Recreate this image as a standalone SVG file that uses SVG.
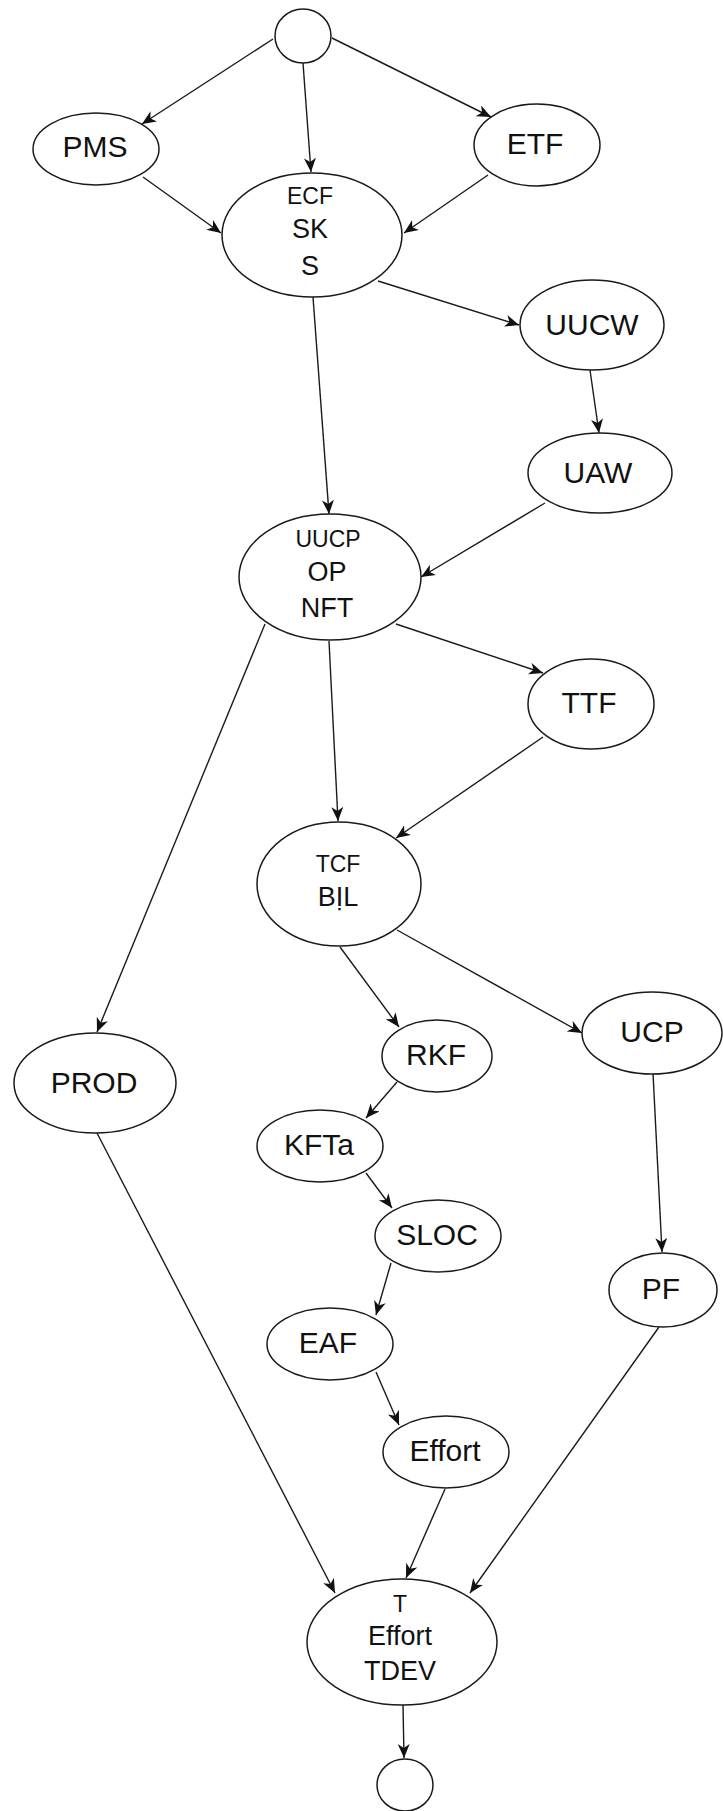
<svg xmlns="http://www.w3.org/2000/svg" width="723" height="1811" viewBox="0 0 723 1811">
  <defs>
    <marker id="arrow" markerUnits="userSpaceOnUse" markerWidth="15" markerHeight="13" refX="14" refY="6" orient="auto">
      <path d="M0,0 L14,6 L0,12 L4,6 z" fill="#111"/>
    </marker>
  </defs>
  <style>
    .node ellipse { fill: #fff; stroke: #1a1a1a; stroke-width: 1.5; }
    .node text { font-family: "Liberation Sans", Arial, sans-serif; fill: #111; text-anchor: middle; }
    .lg { font-size: 30px; }
    .md { font-size: 27px; }
    .sm { font-size: 23px; }
    #edges line { stroke: #1a1a1a; stroke-width: 1.4; marker-end: url(#arrow); }
  </style>
  <rect width="723" height="1811" fill="#fff"/>

  <!-- connectors -->
  <g id="edges">
    <line x1="273" y1="39" x2="142" y2="124"/>
    <line x1="303" y1="63" x2="311" y2="172"/>
    <line x1="332" y1="38" x2="491" y2="117"/>
    <line x1="143" y1="177" x2="221" y2="233"/>
    <line x1="488" y1="175" x2="404" y2="233"/>
    <line x1="378" y1="281" x2="519" y2="325"/>
    <line x1="313" y1="297" x2="329" y2="514"/>
    <line x1="590" y1="370" x2="599" y2="433"/>
    <line x1="545" y1="503" x2="421" y2="577"/>
    <line x1="265" y1="624" x2="97" y2="1032"/>
    <line x1="329" y1="641" x2="338" y2="821"/>
    <line x1="396" y1="624" x2="543" y2="673"/>
    <line x1="543" y1="737" x2="396" y2="838"/>
    <line x1="340" y1="947" x2="399" y2="1027"/>
    <line x1="397" y1="930" x2="582" y2="1033"/>
    <line x1="397" y1="1082" x2="366" y2="1118"/>
    <line x1="366" y1="1173" x2="392" y2="1208"/>
    <line x1="391" y1="1263" x2="376" y2="1315"/>
    <line x1="376" y1="1372" x2="399" y2="1425"/>
    <line x1="445" y1="1489" x2="406" y2="1578"/>
    <line x1="97" y1="1133" x2="335" y2="1593"/>
    <line x1="659" y1="1327" x2="470" y2="1593"/>
    <line x1="653" y1="1073" x2="662" y2="1252"/>
    <line x1="403" y1="1705" x2="404" y2="1758"/>
  </g>

  <!-- nodes -->
  <g id="start" class="node">
    <ellipse cx="303" cy="36" rx="28" ry="27"/>
  </g>
  <g id="pms" class="node">
    <ellipse cx="96" cy="149" rx="63" ry="36"/>
    <text class="lg" x="95" y="157">PMS</text>
  </g>
  <g id="etf" class="node">
    <ellipse cx="537" cy="145" rx="63" ry="41"/>
    <text class="lg" x="535" y="154">ETF</text>
  </g>
  <g id="ecf" class="node">
    <ellipse cx="312" cy="235" rx="90" ry="62"/>
    <text class="sm" x="310" y="204">ECF</text>
    <text class="md" x="310" y="238">SK</text>
    <text class="md" x="310" y="275">S</text>
  </g>
  <g id="uucw" class="node">
    <ellipse cx="592" cy="325" rx="72" ry="45"/>
    <text class="lg" x="592" y="335">UUCW</text>
  </g>
  <g id="uaw" class="node">
    <ellipse cx="600" cy="473" rx="72" ry="40"/>
    <text class="lg" x="598" y="483">UAW</text>
  </g>
  <g id="uucp" class="node">
    <ellipse cx="330" cy="577" rx="91" ry="63"/>
    <text class="sm" x="328" y="547">UUCP</text>
    <text class="md" x="327" y="581">OP</text>
    <text class="md" x="327" y="617">NFT</text>
  </g>
  <g id="ttf" class="node">
    <ellipse cx="591" cy="704" rx="63" ry="45"/>
    <text class="lg" x="589" y="713">TTF</text>
  </g>
  <g id="tcf" class="node">
    <ellipse cx="339" cy="884" rx="82" ry="62"/>
    <text class="sm" x="338" y="872">TCF</text>
    <text class="md" x="338" y="906">BỊL</text>
  </g>
  <g id="prod" class="node">
    <ellipse cx="95" cy="1083" rx="81" ry="50"/>
    <text class="lg" x="94" y="1093">PROD</text>
  </g>
  <g id="rkf" class="node">
    <ellipse cx="437" cy="1056" rx="55" ry="36"/>
    <text class="lg" x="436" y="1065">RKF</text>
  </g>
  <g id="ucp" class="node">
    <ellipse cx="652" cy="1033" rx="70" ry="41"/>
    <text class="lg" x="652" y="1042">UCP</text>
  </g>
  <g id="kfta" class="node">
    <ellipse cx="320" cy="1146" rx="63" ry="36"/>
    <text class="lg" x="319" y="1155">KFTa</text>
  </g>
  <g id="sloc" class="node">
    <ellipse cx="438" cy="1236" rx="63" ry="36"/>
    <text class="lg" x="437" y="1245">SLOC</text>
  </g>
  <g id="pf" class="node">
    <ellipse cx="663" cy="1290" rx="54" ry="37"/>
    <text class="lg" x="661" y="1299">PF</text>
  </g>
  <g id="eaf" class="node">
    <ellipse cx="330" cy="1344" rx="63" ry="36"/>
    <text class="lg" x="328" y="1353">EAF</text>
  </g>
  <g id="effort" class="node">
    <ellipse cx="446" cy="1452" rx="63" ry="36"/>
    <text class="lg" x="445" y="1461">Effort</text>
  </g>
  <g id="total" class="node">
    <ellipse cx="402" cy="1642" rx="95" ry="63"/>
    <text class="sm" x="400" y="1612">T</text>
    <text class="md" x="400" y="1645">Effort</text>
    <text class="md" x="400" y="1680">TDEV</text>
  </g>
  <g id="end" class="node">
    <ellipse cx="405" cy="1785" rx="28" ry="26"/>
  </g>
</svg>
